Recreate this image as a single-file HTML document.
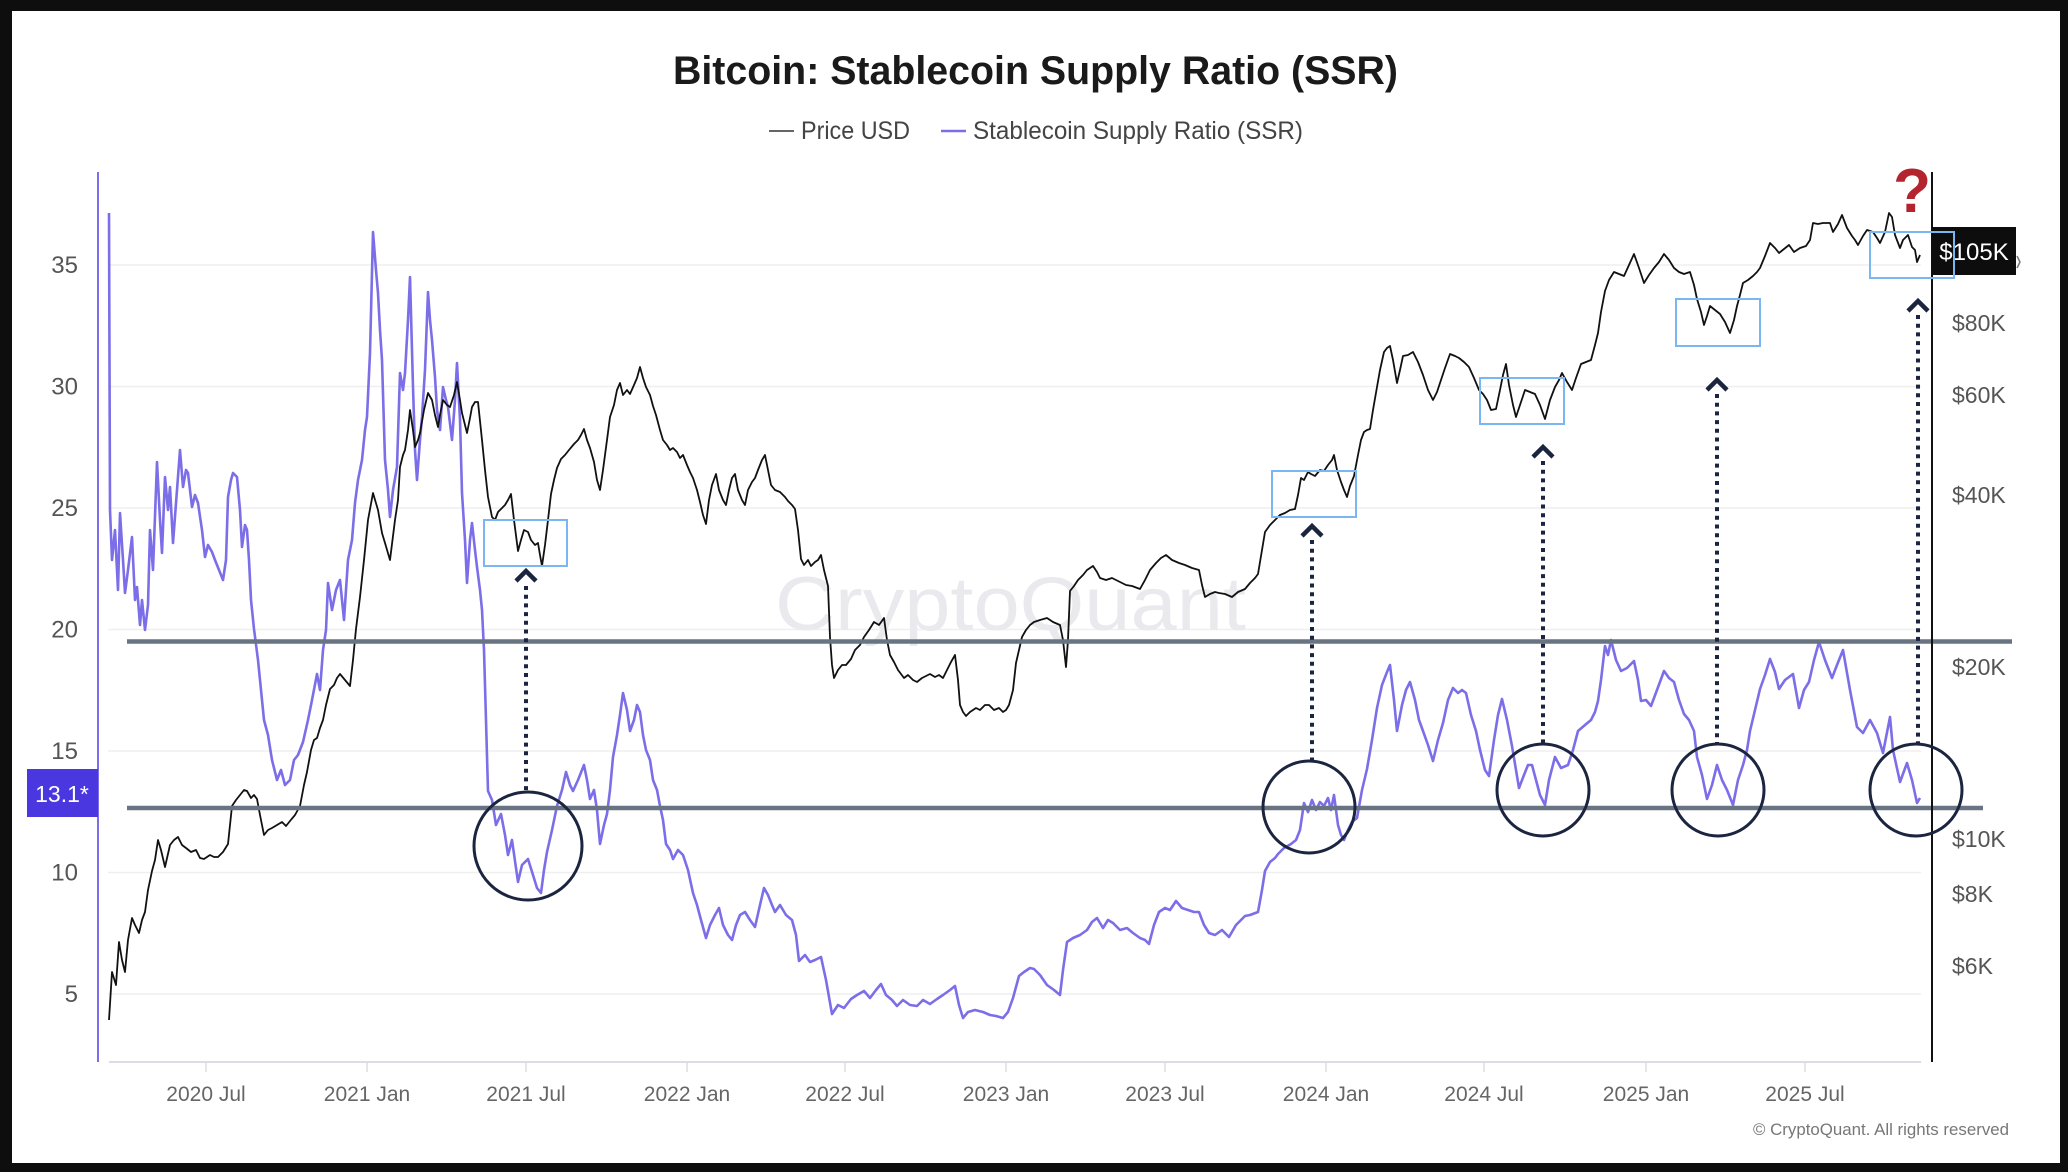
<!DOCTYPE html>
<html><head><meta charset="utf-8"><style>
html,body{margin:0;padding:0;background:#0e0e0e;}
svg{display:block;}
text{font-family:"Liberation Sans",sans-serif;}
</style></head><body>
<svg width="2068" height="1172" viewBox="0 0 2068 1172" xmlns="http://www.w3.org/2000/svg">
<rect x="0" y="0" width="2068" height="1172" fill="#0e0e0e"/>
<rect x="12" y="11" width="2048" height="1152" fill="#ffffff"/>

<!-- title & legend -->
<text x="673" y="84" font-size="40" font-weight="bold" fill="#1a1a1a" textLength="725" lengthAdjust="spacingAndGlyphs">Bitcoin: Stablecoin Supply Ratio (SSR)</text>
<line x1="769" y1="131" x2="794" y2="131" stroke="#666" stroke-width="2"/>
<text x="801" y="139" font-size="25" fill="#444" textLength="109" lengthAdjust="spacingAndGlyphs">Price USD</text>
<line x1="941" y1="131" x2="966" y2="131" stroke="#7b6ee8" stroke-width="2.5"/>
<text x="973" y="139" font-size="25" fill="#444" textLength="330" lengthAdjust="spacingAndGlyphs">Stablecoin Supply Ratio (SSR)</text>

<!-- gridlines -->
<g stroke="#efefef" stroke-width="1.5">
<line x1="108" y1="265" x2="1921" y2="265"/>
<line x1="108" y1="386.5" x2="1921" y2="386.5"/>
<line x1="108" y1="508" x2="1921" y2="508"/>
<line x1="108" y1="629.5" x2="1921" y2="629.5"/>
<line x1="108" y1="751" x2="1921" y2="751"/>
<line x1="108" y1="872.5" x2="1921" y2="872.5"/>
<line x1="108" y1="994" x2="1921" y2="994"/>
</g>

<!-- watermark -->
<text x="775" y="630" font-size="76" fill="#eaeaee" textLength="471" lengthAdjust="spacingAndGlyphs">CryptoQuant</text>

<!-- left axis labels -->
<g font-size="24" fill="#555" text-anchor="end">
<text x="78" y="273">35</text>
<text x="78" y="394.5">30</text>
<text x="78" y="516">25</text>
<text x="78" y="637.5">20</text>
<text x="78" y="759">15</text>
<text x="78" y="880.5">10</text>
<text x="78" y="1002">5</text>
</g>

<!-- right axis labels -->
<g font-size="23" fill="#555">
<text x="1952" y="331">$80K</text>
<text x="1952" y="403">$60K</text>
<text x="1952" y="503">$40K</text>
<text x="1952" y="675">$20K</text>
<text x="1952" y="847">$10K</text>
<text x="1952" y="902">$8K</text>
<text x="1952" y="974">$6K</text>
</g>

<!-- x axis -->
<line x1="109" y1="1062" x2="1921" y2="1062" stroke="#dcdde3" stroke-width="2"/>
<g stroke="#dcdde3" stroke-width="1.5">
<line x1="206" y1="1062" x2="206" y2="1072"/>
<line x1="367" y1="1062" x2="367" y2="1072"/>
<line x1="526" y1="1062" x2="526" y2="1072"/>
<line x1="687" y1="1062" x2="687" y2="1072"/>
<line x1="845" y1="1062" x2="845" y2="1072"/>
<line x1="1006" y1="1062" x2="1006" y2="1072"/>
<line x1="1165" y1="1062" x2="1165" y2="1072"/>
<line x1="1326" y1="1062" x2="1326" y2="1072"/>
<line x1="1484" y1="1062" x2="1484" y2="1072"/>
<line x1="1646" y1="1062" x2="1646" y2="1072"/>
<line x1="1805" y1="1062" x2="1805" y2="1072"/>
</g>
<g font-size="21" fill="#666" text-anchor="middle">
<text x="206" y="1101">2020 Jul</text>
<text x="367" y="1101">2021 Jan</text>
<text x="526" y="1101">2021 Jul</text>
<text x="687" y="1101">2022 Jan</text>
<text x="845" y="1101">2022 Jul</text>
<text x="1006" y="1101">2023 Jan</text>
<text x="1165" y="1101">2023 Jul</text>
<text x="1326" y="1101">2024 Jan</text>
<text x="1484" y="1101">2024 Jul</text>
<text x="1646" y="1101">2025 Jan</text>
<text x="1805" y="1101">2025 Jul</text>
</g>
<text x="1753" y="1135" font-size="17" fill="#777" textLength="256" lengthAdjust="spacingAndGlyphs">© CryptoQuant. All rights reserved</text>

<!-- SSR series -->
<polyline fill="none" stroke="#7b6ee8" stroke-width="2.6" stroke-linejoin="round" points="109,213 110,510 112,560 115,530 118,590 120,513 123,560 125,593 128,570 132,537 135,600 137,587 140,625 142,600 145,630 148,605 150,530 153,570 157,462 160,520 162,553 165,477 168,510 170,487 173,543 177,490 180,450 183,487 186,470 188,473 192,507 195,495 198,503 202,530 205,557 208,545 212,552 215,560 219,570 223,580 226,560 228,497 231,480 233,473 237,477 240,510 242,547 245,525 247,530 249,560 251,600 254,629 258,660 262,700 264,720 268,735 272,760 277,780 281,770 285,785 290,780 294,760 298,755 303,742 308,720 312,700 317,674 320,690 323,650 326,630 328,583 332,610 336,590 340,580 344,620 348,560 352,540 355,503 358,480 362,460 365,430 367,417 370,353 373,232 376,270 378,293 380,330 382,360 385,460 388,490 390,517 393,490 397,467 400,373 403,390 405,373 408,320 410,277 413,387 415,450 417,480 420,440 422,417 425,370 428,292 430,320 432,340 435,377 437,410 440,430 443,387 446,400 448,407 452,440 455,400 457,363 460,420 462,493 465,540 467,583 470,540 472,523 475,550 477,567 480,590 482,610 484,650 488,791 492,800 496,825 501,814 505,835 508,855 512,840 518,882 522,865 528,859 533,875 537,888 541,893 544,870 547,852 552,830 557,806 562,790 566,772 570,785 573,791 578,780 584,765 587,780 590,799 594,790 597,810 600,844 604,825 607,814 610,790 613,757 617,735 620,715 623,693 627,710 630,731 634,720 637,705 640,712 643,735 646,750 650,760 653,780 657,790 660,806 663,820 666,844 670,850 673,859 678,850 683,855 688,870 693,893 697,905 701,920 706,938 710,925 715,915 719,908 723,925 728,935 732,940 736,925 740,915 745,912 750,920 755,927 760,905 764,888 768,895 772,905 775,912 780,905 786,915 792,920 796,935 799,961 805,955 810,962 815,960 821,957 826,980 832,1014 838,1005 844,1008 851,999 857,995 864,991 870,998 876,990 881,984 886,995 892,1000 897,1006 903,1000 910,1005 917,1006 923,1000 930,1004 937,999 943,995 950,990 955,986 959,1005 963,1018 968,1012 975,1010 983,1012 990,1015 996,1016 1003,1018 1008,1012 1013,998 1019,976 1024,972 1030,968 1034,969 1040,975 1047,985 1054,990 1060,995 1063,970 1067,942 1073,938 1080,935 1087,930 1092,922 1097,918 1103,928 1108,920 1113,923 1120,930 1127,928 1133,933 1140,938 1145,940 1149,944 1154,925 1159,912 1165,908 1170,910 1176,901 1182,908 1188,910 1194,912 1199,912 1204,925 1209,933 1215,935 1222,930 1229,937 1236,925 1241,920 1245,916 1250,915 1258,912 1262,890 1265,871 1270,862 1275,858 1278,854 1284,848 1291,844 1296,840 1300,830 1304,803 1308,812 1312,800 1316,810 1320,802 1324,806 1328,798 1331,810 1334,795 1338,825 1341,835 1344,840 1348,830 1352,822 1357,818 1362,790 1367,769 1372,740 1377,708 1382,685 1387,672 1390,665 1394,700 1397,731 1402,705 1406,690 1410,682 1415,700 1419,720 1423,731 1428,745 1433,761 1438,740 1443,723 1448,700 1453,688 1458,693 1462,690 1466,693 1471,715 1476,731 1480,750 1485,770 1489,776 1494,740 1498,715 1502,699 1507,720 1512,746 1516,770 1519,788 1524,775 1528,765 1532,765 1536,780 1540,795 1545,805 1549,780 1555,757 1561,768 1568,765 1573,750 1578,731 1585,725 1591,720 1595,712 1598,701 1601,680 1605,646 1608,655 1611,640 1616,660 1621,671 1627,668 1634,661 1638,680 1641,701 1646,700 1651,706 1657,690 1664,671 1669,678 1674,682 1679,700 1684,714 1689,720 1694,731 1697,757 1702,775 1707,799 1712,785 1717,765 1722,780 1727,790 1733,805 1738,780 1743,765 1747,750 1750,731 1755,710 1760,689 1765,675 1770,659 1775,672 1779,689 1785,680 1793,674 1799,708 1804,690 1809,682 1814,660 1819,642 1825,660 1832,678 1837,665 1843,650 1850,690 1857,727 1863,733 1870,720 1877,733 1883,753 1890,717 1893,750 1900,782 1907,763 1912,780 1917,803 1920,798"/>

<!-- Price series -->
<polyline fill="none" stroke="#111" stroke-width="1.8" stroke-linejoin="round" points="109,1020 112,972 116,985 119,942 122,960 125,972 128,940 132,918 135,925 139,933 142,920 145,912 148,890 152,871 155,860 158,840 161,850 165,867 170,845 174,840 178,837 182,845 186,848 191,852 196,850 200,858 204,859 210,855 214,857 218,857 223,852 228,844 230,825 232,806 236,800 240,795 244,790 247,791 251,798 254,795 257,799 260,815 264,835 268,830 272,828 277,825 282,822 286,826 290,821 295,815 300,806 304,785 307,772 311,750 314,740 317,738 320,728 323,720 326,705 330,689 334,685 337,678 340,674 345,680 350,686 353,660 356,629 360,597 364,560 368,520 373,493 378,510 382,533 385,543 390,560 395,520 398,500 400,467 403,455 405,450 408,430 410,410 413,430 415,447 418,440 420,433 424,410 428,393 432,400 435,415 438,427 440,415 443,400 447,405 450,407 454,395 457,382 460,400 462,413 465,425 467,433 470,418 472,407 475,402 478,402 482,440 485,470 488,497 492,517 495,520 498,512 501,509 505,505 508,500 511,494 514,520 518,551 521,540 524,530 528,532 531,540 535,545 538,543 540,555 542,566 545,545 548,520 551,494 554,480 557,468 561,459 565,455 569,450 574,444 578,440 581,435 584,429 587,440 590,448 594,462 597,480 600,490 603,470 607,440 610,417 614,405 617,390 620,383 623,395 627,390 630,394 634,385 637,378 640,367 643,378 646,387 650,395 653,406 656,415 660,430 663,440 667,445 670,450 673,448 677,452 680,458 683,455 687,465 690,472 693,478 697,490 700,502 703,515 706,524 709,500 712,485 716,474 719,490 723,500 726,505 729,490 732,478 735,474 738,490 742,500 745,505 748,490 752,482 755,478 758,470 762,460 765,455 768,470 771,485 775,490 780,492 785,497 788,501 792,505 795,509 798,530 801,559 804,565 808,560 811,566 815,562 818,560 821,555 824,570 828,586 830,637 832,665 834,678 838,670 842,665 846,665 851,659 855,650 860,645 864,637 869,630 874,622 879,625 884,618 887,640 890,655 894,662 898,670 904,678 908,675 913,680 917,682 922,678 926,676 930,674 935,677 939,675 943,678 947,670 951,662 955,655 958,680 960,705 963,712 966,716 970,712 976,708 980,710 985,705 989,705 994,710 999,708 1003,712 1006,710 1009,705 1013,690 1016,663 1019,650 1022,637 1026,630 1030,625 1034,622 1040,620 1047,618 1053,622 1060,625 1063,640 1066,667 1068,640 1070,591 1074,586 1078,580 1083,575 1087,570 1093,566 1097,572 1100,578 1106,580 1112,578 1120,582 1126,585 1132,586 1140,589 1145,580 1150,570 1156,563 1161,558 1166,555 1172,560 1179,563 1185,565 1192,568 1199,570 1202,585 1205,597 1210,594 1215,592 1219,593 1225,594 1232,597 1238,592 1245,589 1250,583 1255,578 1258,574 1262,550 1265,532 1270,525 1275,520 1280,515 1285,513 1290,510 1295,509 1298,495 1301,478 1304,480 1308,472 1311,474 1315,476 1320,470 1324,471 1328,465 1332,460 1334,455 1337,470 1341,482 1344,490 1347,497 1350,486 1354,476 1358,455 1361,440 1364,432 1367,430 1370,429 1373,410 1377,387 1380,370 1384,352 1387,348 1390,346 1393,360 1397,383 1400,370 1403,356 1408,355 1413,352 1418,362 1423,375 1428,390 1433,400 1437,392 1440,383 1445,368 1450,354 1455,356 1459,358 1464,362 1469,367 1474,378 1479,390 1483,394 1487,400 1491,410 1496,409 1500,390 1503,375 1506,364 1509,385 1513,405 1516,417 1520,405 1525,390 1530,392 1535,394 1540,405 1545,419 1550,400 1555,387 1559,380 1562,373 1567,382 1572,390 1576,378 1581,364 1586,362 1591,360 1595,345 1598,333 1601,312 1605,291 1609,280 1614,272 1619,274 1624,276 1629,265 1634,254 1639,268 1644,283 1649,275 1654,268 1659,262 1664,254 1669,260 1674,268 1679,272 1684,274 1690,272 1694,285 1697,299 1701,312 1704,325 1707,316 1710,306 1715,310 1720,314 1725,322 1730,333 1734,320 1737,306 1740,295 1743,283 1748,280 1753,276 1757,272 1760,268 1765,256 1770,243 1775,248 1779,253 1784,249 1789,245 1794,252 1800,248 1806,246 1810,240 1813,223 1818,224 1823,223 1830,223 1833,232 1838,224 1842,215 1847,228 1852,236 1855,240 1858,245 1863,236 1867,230 1873,232 1877,238 1880,243 1885,232 1889,213 1892,217 1895,235 1900,248 1903,240 1908,235 1912,247 1915,250 1917,262 1920,255"/>

<!-- horizontal support/resistance lines -->
<line x1="127" y1="641.5" x2="2012" y2="641.5" stroke="#687482" stroke-width="4.5"/>
<line x1="127" y1="808" x2="1983" y2="808" stroke="#687482" stroke-width="4.5"/>

<!-- axes -->
<line x1="98" y1="172" x2="98" y2="1062" stroke="#7b6ee8" stroke-width="2"/>
<line x1="1932" y1="172" x2="1932" y2="1062" stroke="#111" stroke-width="2"/>

<!-- 13.1 label -->
<rect x="27" y="769" width="71" height="48" fill="#4a37e0"/>
<text x="62" y="802" font-size="23" fill="#fff" text-anchor="middle">13.1*</text>

<!-- 105K label -->
<rect x="1932" y="227" width="84" height="48" fill="#0d0d0d"/>
<text x="1974" y="260" font-size="24" fill="#fff" text-anchor="middle">$105K</text>
<polyline points="2017,256 2020,262 2017,268" fill="none" stroke="#777" stroke-width="1.5"/>

<!-- blue boxes -->
<g fill="none" stroke="#7ab6f2" stroke-width="2">
<rect x="484" y="520" width="83" height="46"/>
<rect x="1272" y="471" width="84" height="46"/>
<rect x="1480" y="378" width="84" height="46"/>
<rect x="1676" y="299" width="84" height="47"/>
<rect x="1870" y="232" width="84" height="46"/>
</g>

<!-- circles -->
<g fill="none" stroke="#1b2540" stroke-width="3">
<circle cx="528" cy="846" r="54"/>
<circle cx="1309" cy="807" r="46"/>
<circle cx="1543" cy="790" r="46"/>
<circle cx="1718" cy="790" r="46"/>
<circle cx="1916" cy="790" r="46"/>
</g>

<!-- dotted arrows -->
<g stroke="#1b2540" stroke-width="4" stroke-dasharray="4 4.7" fill="none">
<line x1="526" y1="586" x2="526" y2="792"/>
<line x1="1312" y1="540" x2="1312" y2="761"/>
<line x1="1543" y1="461" x2="1543" y2="744"/>
<line x1="1717" y1="394" x2="1717" y2="744"/>
<line x1="1918" y1="315" x2="1918" y2="744"/>
</g>
<g stroke="#1b2540" stroke-width="4.5" fill="none" stroke-linejoin="miter" stroke-linecap="butt">
<polyline points="516,581 526,571 536,581"/>
<polyline points="1302,536 1312,526 1322,536"/>
<polyline points="1533,457 1543,447 1553,457"/>
<polyline points="1707,390 1717,380 1727,390"/>
<polyline points="1908,311 1918,301 1928,311"/>
</g>

<!-- question mark -->
<text x="1912" y="212" font-size="62" font-weight="bold" fill="#b3242f" text-anchor="middle">?</text>
</svg>
</body></html>
